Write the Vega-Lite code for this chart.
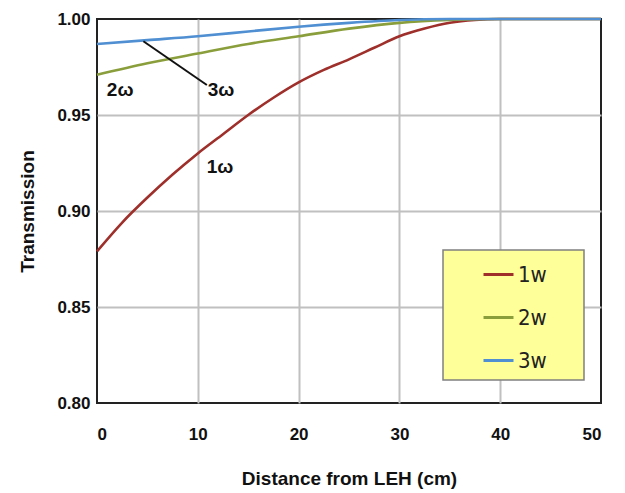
{
  "$schema": "https://vega.github.io/schema/vega-lite/v6.json",
  "width": 504,
  "height": 384,
  "autosize": {"type": "none"},
  "padding": {"left": 97, "top": 19, "right": 24, "bottom": 90},
  "background": "white",
  "config": {
    "view": {"stroke": "#222222", "strokeWidth": 2},
    "font": "Liberation Sans",
    "legend": {"strokeWidth": 1.5}
  },
  "datasets": {
    "curves": [
      {"series": "1w", "distance": 0, "transmission": 0.879},
      {"series": "1w", "distance": 2.5, "transmission": 0.894},
      {"series": "1w", "distance": 5, "transmission": 0.907},
      {"series": "1w", "distance": 7.5, "transmission": 0.919},
      {"series": "1w", "distance": 10, "transmission": 0.930},
      {"series": "1w", "distance": 12.5, "transmission": 0.940},
      {"series": "1w", "distance": 15, "transmission": 0.950},
      {"series": "1w", "distance": 17.5, "transmission": 0.959},
      {"series": "1w", "distance": 20, "transmission": 0.967},
      {"series": "1w", "distance": 22.5, "transmission": 0.9735},
      {"series": "1w", "distance": 25, "transmission": 0.979},
      {"series": "1w", "distance": 27.5, "transmission": 0.985},
      {"series": "1w", "distance": 30, "transmission": 0.991},
      {"series": "1w", "distance": 32.5, "transmission": 0.995},
      {"series": "1w", "distance": 35, "transmission": 0.998},
      {"series": "1w", "distance": 37.5, "transmission": 0.9995},
      {"series": "1w", "distance": 40, "transmission": 1.0},
      {"series": "1w", "distance": 45, "transmission": 1.0},
      {"series": "1w", "distance": 50, "transmission": 1.0},
      {"series": "2w", "distance": 0, "transmission": 0.971},
      {"series": "2w", "distance": 5, "transmission": 0.977},
      {"series": "2w", "distance": 10, "transmission": 0.982},
      {"series": "2w", "distance": 15, "transmission": 0.987},
      {"series": "2w", "distance": 20, "transmission": 0.991},
      {"series": "2w", "distance": 25, "transmission": 0.995},
      {"series": "2w", "distance": 30, "transmission": 0.998},
      {"series": "2w", "distance": 35, "transmission": 0.9995},
      {"series": "2w", "distance": 40, "transmission": 1.0},
      {"series": "2w", "distance": 50, "transmission": 1.0},
      {"series": "3w", "distance": 0, "transmission": 0.987},
      {"series": "3w", "distance": 5, "transmission": 0.989},
      {"series": "3w", "distance": 10, "transmission": 0.991},
      {"series": "3w", "distance": 15, "transmission": 0.9935},
      {"series": "3w", "distance": 20, "transmission": 0.996},
      {"series": "3w", "distance": 25, "transmission": 0.998},
      {"series": "3w", "distance": 30, "transmission": 0.9995},
      {"series": "3w", "distance": 35, "transmission": 1.0},
      {"series": "3w", "distance": 50, "transmission": 1.0}
    ],
    "labels": [
      {"x": 2.3, "y": 0.963, "text": "2ω"},
      {"x": 12.3, "y": 0.963, "text": "3ω"},
      {"x": 12.2, "y": 0.923, "text": "1ω"}
    ],
    "leader": [
      {"x": 4.6, "y": 0.9884, "x2": 10.9, "y2": 0.9656}
    ]
  },
  "layer": [
    {
      "data": {"name": "curves"},
      "mark": {"type": "line", "interpolate": "monotone", "strokeWidth": 2.6, "clip": false},
      "encoding": {
        "x": {
          "field": "distance", "type": "quantitative",
          "scale": {"domain": [0, 50], "nice": false},
          "title": "Distance from LEH (cm)",
          "axis": {
            "values": [0, 10, 20, 30, 40, 50],
            "grid": true, "gridColor": "#C0C0C0", "gridWidth": 2,
            "gridOpacity": {"condition": {"test": "datum.value <= 0 || datum.value >= 50", "value": 0}, "value": 1},
            "domain": false, "ticks": false,
            "labelFontWeight": "bold", "labelFontSize": 17, "labelColor": "#111111",
            "labelPadding": 23,
            "titleFontSize": 19, "titleFontWeight": "bold", "titleColor": "#111111",
            "titleY": 75, "titleBaseline": "middle"
          }
        },
        "y": {
          "field": "transmission", "type": "quantitative",
          "scale": {"domain": [0.8, 1.0], "zero": false, "nice": false},
          "title": "Transmission",
          "axis": {
            "values": [0.8, 0.85, 0.9, 0.95, 1.0],
            "format": ".2f",
            "grid": true, "gridColor": "#C0C0C0", "gridWidth": 2,
            "gridOpacity": {"condition": {"test": "datum.value <= 0.8001 || datum.value >= 0.9999", "value": 0}, "value": 1},
            "domain": false, "ticks": false,
            "labelFontWeight": "bold", "labelFontSize": 17, "labelColor": "#111111",
            "labelPadding": 7,
            "titleFontSize": 19, "titleFontWeight": "bold", "titleColor": "#111111",
            "titleX": -70, "titleBaseline": "middle"
          }
        },
        "color": {
          "field": "series", "type": "nominal",
          "scale": {"domain": ["1w", "2w", "3w"], "range": ["#9E2F2A", "#8A9E3C", "#4F8FD2"]},
          "legend": {
            "orient": "none", "legendX": 346, "legendY": 231,
            "title": null,
            "fillColor": "#FFFF99", "strokeColor": "#808080",
            "padding": 8,
            "symbolType": "stroke", "symbolSize": 900, "symbolStrokeWidth": 3,
            "symbolOffset": 31,
            "labelFont": "DejaVu Sans Condensed, Liberation Sans", "labelFontSize": 22, "labelColor": "#222222",
            "labelOffset": 3,
            "labelExpr": "datum.label + '\u2800\u2800'",
            "rowPadding": 15
          }
        }
      }
    },
    {
      "data": {"name": "leader"},
      "mark": {"type": "rule", "color": "#111111", "strokeWidth": 2},
      "encoding": {
        "x": {"field": "x", "type": "quantitative"},
        "y": {"field": "y", "type": "quantitative"},
        "x2": {"field": "x2"},
        "y2": {"field": "y2"}
      }
    },
    {
      "data": {"name": "labels"},
      "mark": {"type": "text", "fontWeight": "bold", "fontSize": 19, "font": "Liberation Sans", "color": "#111111"},
      "encoding": {
        "x": {"field": "x", "type": "quantitative"},
        "y": {"field": "y", "type": "quantitative"},
        "text": {"field": "text"}
      }
    }
  ]
}
